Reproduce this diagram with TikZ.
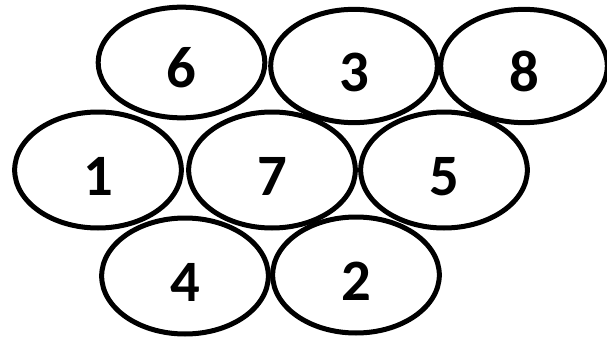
\documentclass[tikz,border=0pt]{standalone}
\usepackage{fontspec}
\setmainfont{Carlito}
\usepackage{tikz}
\usetikzlibrary{shapes.geometric}
\definecolor{cellLine}{RGB}{0,0,0}

\begin{document}
\begin{tikzpicture}[x=0.75pt, y=0.75pt,
    cell/.style={ellipse, draw=cellLine, line width=3.75pt, fill=white,
      minimum width=125pt, minimum height=87pt, inner sep=0pt,
      text height=38pt, font=\fontsize{44}{44}\selectfont\bfseries}]
  \useasboundingbox (0,0) rectangle (607,340);
  % top row
  \node[cell, minimum height=83pt] (six)   at (181.5,277.5) {6};
  \node[cell, minimum height=85pt] (three) at (354,274) {3};
  \node[cell, minimum height=85pt] (eight) at (524,274) {8};
  % middle row
  \node[cell] (one)   at (98,170)  {1};
  \node[cell] (seven) at (272,170) {7};
  \node[cell] (five)  at (444,170) {5};
  % bottom row
  \node[cell] (four)  at (185,64)  {4};
  \node[cell] (two)   at (356,65)  {2};
\end{tikzpicture}
\end{document}
